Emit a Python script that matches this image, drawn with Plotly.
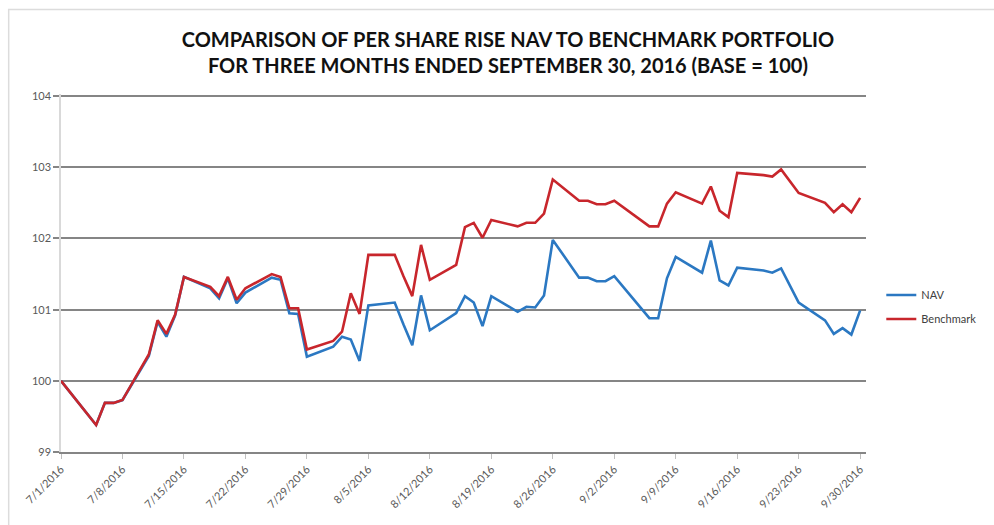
import plotly.graph_objects as go

dates = [
    "2016-07-01", "2016-07-05", "2016-07-06", "2016-07-07", "2016-07-08",
    "2016-07-11", "2016-07-12", "2016-07-13", "2016-07-14", "2016-07-15",
    "2016-07-18", "2016-07-19", "2016-07-20", "2016-07-21", "2016-07-22",
    "2016-07-25", "2016-07-26", "2016-07-27", "2016-07-28", "2016-07-29",
    "2016-08-01", "2016-08-02", "2016-08-03", "2016-08-04", "2016-08-05",
    "2016-08-08", "2016-08-09", "2016-08-10", "2016-08-11", "2016-08-12",
    "2016-08-15", "2016-08-16", "2016-08-17", "2016-08-18", "2016-08-19",
    "2016-08-22", "2016-08-23", "2016-08-24", "2016-08-25", "2016-08-26",
    "2016-08-29", "2016-08-30", "2016-08-31", "2016-09-01", "2016-09-02",
    "2016-09-06", "2016-09-07", "2016-09-08", "2016-09-09",
    "2016-09-12", "2016-09-13", "2016-09-14", "2016-09-15", "2016-09-16",
    "2016-09-19", "2016-09-20", "2016-09-21", "2016-09-22", "2016-09-23",
    "2016-09-26", "2016-09-27", "2016-09-28", "2016-09-29", "2016-09-30",
]

nav = [
    100.00, 99.38, 99.69, 99.69, 99.73,
    100.35, 100.83, 100.62, 100.92, 101.46,
    101.30, 101.16, 101.44, 101.09, 101.24,
    101.45, 101.42, 100.95, 100.94, 100.34,
    100.48, 100.62, 100.58, 100.28, 101.06,
    101.10, 100.79, 100.50, 101.20, 100.71,
    100.95, 101.19, 101.10, 100.77, 101.19,
    100.97, 101.04, 101.03, 101.20, 101.98,
    101.45, 101.45, 101.40, 101.40, 101.47,
    100.88, 100.88, 101.44, 101.74,
    101.52, 101.97, 101.41, 101.34, 101.59,
    101.55, 101.52, 101.58, 101.35, 101.10,
    100.85, 100.66, 100.74, 100.65, 100.99,
]

benchmark = [
    100.00, 99.38, 99.69, 99.69, 99.73,
    100.37, 100.85, 100.66, 100.93, 101.46,
    101.32, 101.19, 101.46, 101.14, 101.30,
    101.50, 101.46, 101.02, 101.02, 100.44,
    100.56, 100.69, 101.23, 100.94, 101.77,
    101.77, 101.47, 101.19, 101.91, 101.42,
    101.63, 102.16, 102.22, 102.01, 102.26,
    102.17, 102.22, 102.22, 102.35, 102.83,
    102.53, 102.53, 102.48, 102.48, 102.53,
    102.17, 102.17, 102.49, 102.65,
    102.49, 102.73, 102.39, 102.30, 102.92,
    102.89, 102.87, 102.97, 102.80, 102.64,
    102.50, 102.37, 102.48, 102.37, 102.57,
]

tick_dates = [
    "2016-07-01", "2016-07-08", "2016-07-15", "2016-07-22", "2016-07-29",
    "2016-08-05", "2016-08-12", "2016-08-19", "2016-08-26", "2016-09-02",
    "2016-09-09", "2016-09-16", "2016-09-23", "2016-09-30",
]
tick_labels = [
    "7/1/2016", "7/8/2016", "7/15/2016", "7/22/2016", "7/29/2016",
    "8/5/2016", "8/12/2016", "8/19/2016", "8/26/2016", "9/2/2016",
    "9/9/2016", "9/16/2016", "9/23/2016", "9/30/2016",
]
y_ticks = [99, 100, 101, 102, 103, 104]

FONT = "Lato"
GRID = "#858585"

fig = go.Figure()
fig.add_trace(go.Scatter(
    x=dates, y=nav, mode="lines", name="NAV", legendgroup="nav",
    line=dict(color="#2b78c2", width=2.6),
))
fig.add_trace(go.Scatter(
    x=dates, y=benchmark, mode="lines", name="Benchmark", legendgroup="bm",
    line=dict(color="#c8262c", width=2.6),
))

fig.update_layout(
    width=994, height=525,
    paper_bgcolor="white", plot_bgcolor="white",
    margin=dict(l=61, r=128, t=94, b=73),
    title=dict(
        text="COMPARISON OF PER SHARE RISE NAV TO BENCHMARK PORTFOLIO<br>"
             "FOR THREE MONTHS ENDED SEPTEMBER 30, 2016 (BASE = 100)",
        x=0.511, xanchor="center", y=0.911, yanchor="top",
        font=dict(family=FONT, size=20, color="#111111", weight="bold"),
    ),
    font=dict(family=FONT, color="#595959"),
    legend=dict(
        x=1.019, xanchor="left", y=0.405, yanchor="middle",
        font=dict(family=FONT, size=11, color="#404040"),
        bgcolor="rgba(0,0,0,0)", itemwidth=30, tracegroupgap=5,
    ),
    showlegend=True,
    shapes=[dict(
        type="rect", xref="paper", yref="paper",
        x0=-0.065, x1=1.5, y0=-0.5, y1=1.236,
        line=dict(color="#dcdcdc", width=1.5), fillcolor="rgba(0,0,0,0)",
        layer="below",
    )],
)

fig.update_xaxes(
    type="date", automargin=False,
    range=["2016-07-01", "2016-09-30 16:00"],
    tickmode="array", tickvals=tick_dates, ticktext=tick_labels,
    tickangle=-45, tickfont=dict(family=FONT, size=11, color="#595959"),
    showgrid=False, showline=True, linecolor=GRID, linewidth=1.5,
    ticks="outside", ticklen=5, tickcolor="#bfbfbf", tickwidth=1,
    zeroline=False,
)
fig.update_yaxes(
    automargin=False,
    range=[99, 104.03], tickmode="array", tickvals=y_ticks,
    tickfont=dict(family=FONT, size=11, color="#595959"),
    showgrid=True, gridcolor=GRID, gridwidth=2.4,
    showline=True, linecolor="#d9d9d9", linewidth=1.5,
    ticks="outside", ticklen=6, tickcolor=GRID, tickwidth=2,
    zeroline=False,
)

fig.write_html(
    "out.html",
    config={"displayModeBar": False},
    post_script="document.body.style.margin='0';",
)
